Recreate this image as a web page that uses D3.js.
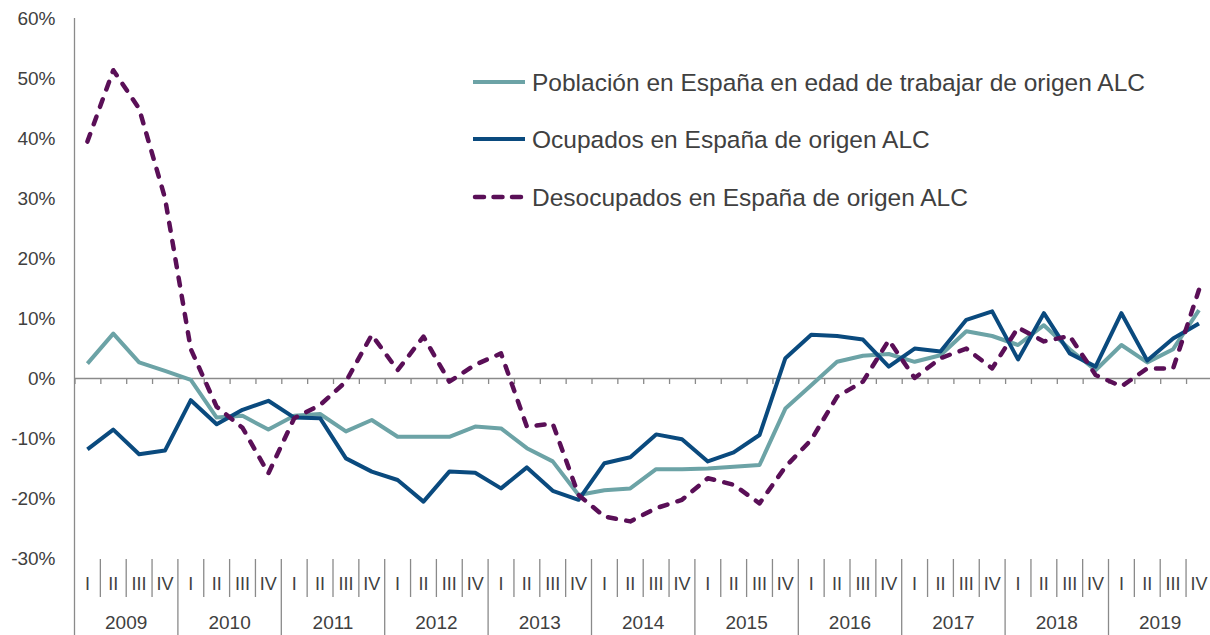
<!DOCTYPE html>
<html><head><meta charset="utf-8">
<script src="https://cdn.jsdelivr.net/npm/d3@7"></script>
<style>
html,body{margin:0;padding:0;background:#fff;}
svg{display:block;font-family:"Liberation Sans",Arial,sans-serif;}
</style></head>
<body>
<svg id="chart" width="1210" height="635"></svg>
<script>
const years = ["2009","2010","2011","2012","2013","2014","2015","2016","2017","2018","2019"];
const quarterLabels = ["I","II","III","IV"];
const yTicks = [-30,-20,-10,0,10,20,30,40,50,60];
const seriesNames = [
  "Población en España en edad de trabajar de origen ALC",
  "Ocupados en España de origen ALC",
  "Desocupados en España de origen ALC"
];
const poblacion = [2.4,7.4,2.6,1.2,-0.3,-6.6,-6.3,-8.6,-6.3,-6.0,-8.9,-7.0,-9.8,-9.8,-9.8,-8.1,-8.4,-11.7,-13.9,-19.5,-18.7,-18.4,-15.2,-15.2,-15.1,-14.8,-14.5,-5.1,-1.2,2.7,3.7,4.0,2.7,3.8,7.8,7.0,5.5,8.8,4.8,1.3,5.5,2.6,4.8,11.3];
const ocupados = [-11.9,-8.6,-12.7,-12.1,-3.7,-7.7,-5.3,-3.8,-6.6,-6.7,-13.4,-15.6,-17.0,-20.6,-15.6,-15.8,-18.4,-14.9,-18.8,-20.3,-14.2,-13.2,-9.4,-10.2,-13.9,-12.4,-9.5,3.3,7.2,7.0,6.4,1.9,4.9,4.4,9.7,11.1,3.1,10.8,4.1,1.9,10.8,2.9,6.6,9.1];
const desocupados = [39.4,51.3,44.9,30.0,4.8,-4.8,-8.3,-15.9,-6.7,-4.5,-0.6,7.2,1.3,6.9,-0.6,2.2,4.1,-8.1,-7.6,-19.5,-23.1,-23.9,-21.7,-20.3,-16.7,-17.8,-20.9,-14.8,-10.3,-3.1,-0.6,6.3,0.0,3.3,4.9,1.6,8.4,6.1,7.0,0.5,-1.4,1.6,1.6,14.7];
const colors = ["#6CA3A6","#0A4A7E","#5A0F57"];

const svg = d3.select("#chart");
const nQ = years.length * 4;
const x = d3.scaleLinear().domain([0, nQ]).range([74.5, 74.5 + nQ * 25.85]);
const y = d3.scaleLinear().domain([-30, 60]).range([558, 18]);
const textColor = "#404040";
const axisColor = "#8a8a8a";

// Y axis
const yAxis = svg.append("g").attr("transform", `translate(${x(0)},0)`)
  .call(d3.axisLeft(y).tickValues(yTicks).tickSize(0).tickPadding(19).tickFormat(d => d + "%"));
yAxis.select(".domain").remove();
yAxis.selectAll("text").attr("fill", textColor).style("font-size", "19px").style("font-family", "Liberation Sans, Arial, sans-serif");
svg.append("line").attr("x1", x(0)).attr("x2", x(0)).attr("y1", y(60)).attr("y2", 635)
  .attr("stroke", axisColor).attr("stroke-width", 1.3);

// Zero line with ticks
const zeroAxis = svg.append("g").attr("transform", `translate(0,${y(0)})`)
  .call(d3.axisBottom(x).tickValues(d3.range(0, nQ + 1)).tickSize(6).tickSizeOuter(0).tickFormat(""));
zeroAxis.select(".domain").attr("stroke", axisColor).attr("stroke-width", 1.5);
zeroAxis.selectAll(".tick line").attr("stroke", axisColor).attr("stroke-width", 1.3);

// Bottom category axis
const bottom = svg.append("g");
d3.range(1, nQ + 1).forEach(q => {
  const isYear = q % 4 === 0;
  bottom.append("line").attr("x1", x(q)).attr("x2", x(q))
    .attr("y1", 559).attr("y2", isYear ? 635 : 597)
    .attr("stroke", axisColor).attr("stroke-width", 1.3);
});
years.forEach((yr, yi) => {
  quarterLabels.forEach((ql, qi) => {
    bottom.append("text").attr("x", x(yi * 4 + qi + 0.5)).attr("y", 584)
      .attr("text-anchor", "middle").attr("dominant-baseline", "central")
      .attr("fill", textColor).style("font-size", "18px").text(ql);
  });
  bottom.append("text").attr("x", x(yi * 4 + 2)).attr("y", 622)
    .attr("text-anchor", "middle").attr("dominant-baseline", "central")
    .attr("fill", textColor).style("font-size", "19px").text(yr);
});

// Lines
const line = d3.line().x((d, i) => x(i + 0.5)).y(d => y(d));
const data = [poblacion, ocupados, desocupados];
data.forEach((s, k) => {
  const p = svg.append("path").datum(s).attr("d", line)
    .attr("fill", "none").attr("stroke", colors[k]).attr("stroke-width", 4)
    .attr("stroke-linejoin", "round");
  if (k === 2) p.attr("stroke-width", 4.5).attr("stroke-dasharray", "8,10.5").attr("stroke-linecap", "round");
});

// Legend
const legendY = [82, 139, 197];
seriesNames.forEach((name, k) => {
  const g = svg.append("g");
  const l = g.append("line").attr("x1", 473).attr("x2", 525).attr("y1", legendY[k]).attr("y2", legendY[k])
    .attr("stroke", colors[k]).attr("stroke-width", 4);
  if (k === 2) l.attr("stroke-width", 4.5).attr("stroke-dasharray", "9,9.5").attr("stroke-linecap", "round").attr("x1", 475).attr("x2", 521);
  g.append("text").attr("x", 532).attr("y", legendY[k]).attr("dominant-baseline", "central")
    .attr("fill", textColor).style("font-size", "24.5px").text(name);
});
</script>
</body></html>
